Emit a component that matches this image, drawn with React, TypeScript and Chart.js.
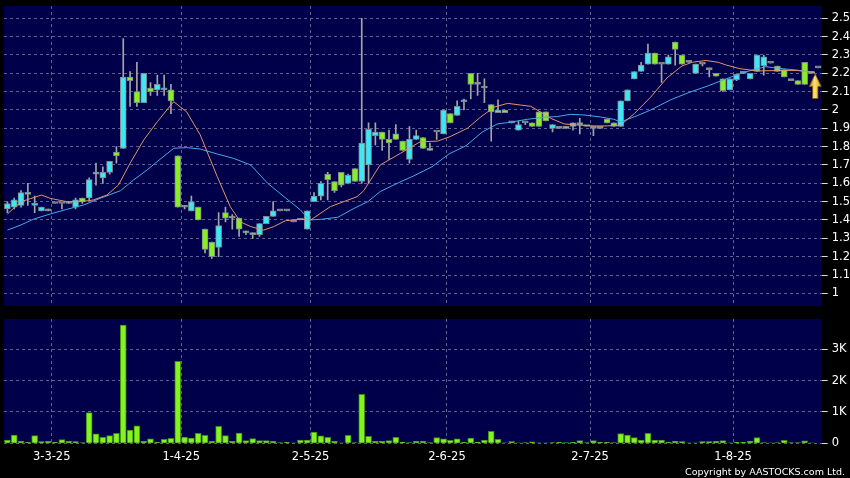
import React, { useEffect, useRef } from "react";
import { Chart, registerables } from "chart.js";

Chart.register(...registerables);

// ---- data (one entry per trading day, index 0..119) ----
const opens = [
  1.46, 1.47, 1.48, 1.55, 1.48, 1.45, 1.45, 1.49, 1.49, 1.49,
  1.47, 1.52, 1.52, 1.65, 1.63, 1.66, 1.77, 1.79, 2.18, 2.10,
  2.04, 2.12, 2.11, 2.11, 2.11, 1.75, 1.47, 1.45, 1.47, 1.35,
  1.28, 1.25, 1.44, 1.41, 1.41, 1.34, 1.33, 1.32, 1.38, 1.42,
  1.45, 1.45, 1.39, 1.40, 1.35, 1.50, 1.53, 1.65, 1.61, 1.66,
  1.60, 1.68, 1.61, 1.70, 1.86, 1.88, 1.84, 1.87, 1.83, 1.73,
  1.84, 1.85, 1.79, 1.88, 1.87, 1.98, 1.97, 2.045, 2.20, 2.14,
  2.13, 2.03, 1.985, 2.00, 1.93, 1.89, 1.93, 1.93, 1.99, 1.99,
  1.90, 1.90, 1.90, 1.91, 1.92, 1.91, 1.90, 1.90, 1.95, 1.93,
  1.91, 2.05, 2.17, 2.21, 2.25, 2.31, 2.25, 2.25, 2.37, 2.30,
  2.26, 2.20, 2.25, 2.22, 2.20, 2.17, 2.11, 2.165, 2.20, 2.17,
  2.21, 2.24, 2.255, 2.24, 2.22, 2.16, 2.16, 2.26, 2.20, 2.23,
];
const highs = [
  1.50, 1.52, 1.56, 1.60, 1.53, 1.47, 1.46, 1.49, 1.49, 1.50,
  1.52, 1.52, 1.63, 1.71, 1.69, 1.72, 1.80, 2.39, 2.21, 2.26,
  2.20, 2.15, 2.19, 2.19, 2.14, 1.75, 1.48, 1.53, 1.47, 1.35,
  1.28, 1.44, 1.47, 1.43, 1.41, 1.34, 1.33, 1.38, 1.42, 1.50,
  1.45, 1.45, 1.39, 1.40, 1.45, 1.55, 1.61, 1.66, 1.61, 1.66,
  1.65, 1.68, 2.50, 1.93, 1.93, 1.88, 1.89, 1.92, 1.83, 1.91,
  1.89, 1.85, 1.82, 1.88, 2.00, 1.98, 2.05, 2.06, 2.20, 2.20,
  2.17, 2.03, 2.055, 2.00, 1.93, 1.94, 1.93, 1.93, 1.99, 1.99,
  1.92, 1.90, 1.91, 1.93, 1.955, 1.91, 1.90, 1.90, 1.95, 1.93,
  2.05, 2.11, 2.21, 2.26, 2.36, 2.31, 2.25, 2.30, 2.37, 2.30,
  2.26, 2.25, 2.25, 2.22, 2.20, 2.17, 2.17, 2.195, 2.20, 2.20,
  2.30, 2.30, 2.255, 2.24, 2.22, 2.16, 2.16, 2.26, 2.20, 2.23,
];
const lows = [
  1.44, 1.46, 1.47, 1.48, 1.44, 1.45, 1.45, 1.49, 1.46, 1.49,
  1.46, 1.49, 1.51, 1.59, 1.60, 1.65, 1.71, 1.79, 2.02, 2.02,
  2.04, 2.08, 2.08, 2.08, 1.98, 1.47, 1.46, 1.45, 1.40, 1.22,
  1.19, 1.20, 1.39, 1.35, 1.31, 1.32, 1.30, 1.31, 1.38, 1.42,
  1.45, 1.45, 1.39, 1.40, 1.35, 1.50, 1.51, 1.51, 1.55, 1.58,
  1.60, 1.61, 1.60, 1.60, 1.81, 1.78, 1.73, 1.84, 1.78, 1.71,
  1.84, 1.79, 1.78, 1.84, 1.87, 1.93, 1.97, 2.00, 2.06, 2.08,
  2.04, 1.83, 1.985, 1.985, 1.93, 1.89, 1.92, 1.91, 1.91, 1.94,
  1.88, 1.90, 1.90, 1.89, 1.87, 1.91, 1.86, 1.90, 1.93, 1.91,
  1.91, 2.05, 2.17, 2.21, 2.25, 2.25, 2.15, 2.25, 2.245, 2.25,
  2.26, 2.20, 2.24, 2.18, 2.185, 2.10, 2.11, 2.16, 2.20, 2.17,
  2.21, 2.19, 2.255, 2.21, 2.18, 2.16, 2.14, 2.14, 2.20, 2.23,
];
const closes = [
  1.49, 1.51, 1.55, 1.54, 1.49, 1.47, 1.45, 1.49, 1.49, 1.49,
  1.51, 1.50, 1.62, 1.66, 1.66, 1.72, 1.75, 2.18, 2.16, 2.04,
  2.20, 2.10, 2.14, 2.12, 2.05, 1.47, 1.47, 1.50, 1.40, 1.24,
  1.20, 1.37, 1.41, 1.41, 1.35, 1.33, 1.32, 1.38, 1.42, 1.45,
  1.45, 1.45, 1.39, 1.40, 1.45, 1.53, 1.60, 1.62, 1.56, 1.59,
  1.645, 1.61, 1.82, 1.895, 1.88, 1.84, 1.82, 1.84, 1.78, 1.84,
  1.86, 1.79, 1.78, 1.88, 2.00, 1.93, 2.02, 2.055, 2.14, 2.14,
  2.12, 1.99, 2.00, 1.985, 1.93, 1.92, 1.93, 1.91, 1.91, 1.94,
  1.92, 1.90, 1.91, 1.93, 1.92, 1.91, 1.90, 1.90, 1.93, 1.91,
  2.05, 2.11, 2.21, 2.245, 2.31, 2.25, 2.25, 2.29, 2.33, 2.25,
  2.26, 2.25, 2.25, 2.22, 2.185, 2.105, 2.17, 2.195, 2.20, 2.20,
  2.30, 2.29, 2.255, 2.21, 2.18, 2.16, 2.14, 2.14, 2.20, 2.23,
];
const volumes = [
  100, 265, 65, 30, 245, 55, 65, 30, 115, 65,
  55, 20, 980, 300, 190, 245, 320, 3770, 425, 555,
  65, 140, 30, 130, 160, 2620, 200, 170, 320, 255,
  65, 540, 245, 65, 330, 85, 150, 85, 85, 65,
  20, 30, 10, 105, 105, 360, 235, 190, 65, 10,
  255, 20, 1565, 225, 65, 65, 85, 190, 40, 20,
  65, 65, 20, 180, 140, 95, 140, 30, 170, 40,
  105, 380, 130, 10, 55, 10, 20, 45, 10, 10,
  20, 30, 20, 30, 85, 20, 85, 30, 30, 20,
  310, 265, 180, 105, 320, 105, 105, 30, 65, 55,
  10, 10, 55, 55, 65, 85, 10, 30, 30, 65,
  180, 20, 10, 20, 95, 20, 20, 75, 10, 0,
];

// moving-average lines (x = day index)
const ma10X = [0, 2, 5, 6.3, 8.7, 10.7, 12.6, 14.6, 16.3, 18, 20, 22, 23.4, 24.4, 26.3, 28.3, 30.8, 32.7, 34.2, 35.7, 37.6, 39.1, 40.8, 43, 44.5, 47.4, 51.3, 52.3, 54.7, 57.7, 60.6, 63.1, 65, 67.5, 69.4, 71.4, 73.4, 75.3, 76.8, 78.2, 79.7, 81.7, 83.6, 86.1, 88, 90, 92, 94.4, 96.8, 99, 100.5, 102.5, 104.3, 105.5, 107.5, 110, 113, 116, 118.5];
const ma10Y = [1.433, 1.50, 1.536, 1.518, 1.50, 1.50, 1.509, 1.536, 1.591, 1.709, 1.836, 1.936, 2.0, 2.045, 1.99, 1.864, 1.636, 1.473, 1.39, 1.364, 1.345, 1.364, 1.396, 1.404, 1.40, 1.473, 1.527, 1.56, 1.70, 1.764, 1.827, 1.83, 1.855, 1.90, 1.96, 2.015, 2.036, 2.027, 2.02, 1.99, 1.955, 1.924, 1.918, 1.913, 1.913, 1.918, 1.98, 2.07, 2.175, 2.24, 2.26, 2.27, 2.26, 2.245, 2.225, 2.213, 2.215, 2.215, 2.204];
const ma20X = [0, 2, 3.8, 6.3, 8.7, 11.2, 13.6, 16.6, 18.5, 20.5, 22.4, 24.4, 26.3, 28.3, 30.8, 33.2, 35.7, 38.2, 40.6, 43, 44.3, 46.1, 48.5, 50.9, 52.9, 54.7, 57.5, 59.6, 62.3, 64.8, 67.3, 69.7, 71.9, 73.4, 76.3, 78.7, 80.7, 82.6, 84.6, 87, 89, 90, 92.5, 94.4, 97.3, 100, 102.7, 105.1, 107.3, 109.3, 111.3, 113.2, 115.7, 118.5];
const ma20Y = [1.345, 1.373, 1.404, 1.433, 1.458, 1.482, 1.518, 1.56, 1.618, 1.673, 1.731, 1.791, 1.795, 1.787, 1.76, 1.736, 1.70, 1.60, 1.527, 1.455, 1.40, 1.404, 1.415, 1.464, 1.50, 1.555, 1.605, 1.64, 1.69, 1.76, 1.805, 1.88, 1.924, 1.931, 1.949, 1.96, 1.964, 1.976, 1.973, 1.962, 1.949, 1.935, 1.97, 2.0, 2.055, 2.095, 2.13, 2.164, 2.195, 2.218, 2.236, 2.227, 2.218, 2.204];

// axis ticks
const xTickPos = [6.5, 25.5, 44.5, 64.5, 85.5, 106.5];
const xTickLabels = ["3-3-25", "1-4-25", "2-5-25", "2-6-25", "2-7-25", "1-8-25"];
const priceTicks = [1.0, 1.1, 1.2, 1.3, 1.4, 1.5, 1.6, 1.7, 1.8, 1.9, 2.0, 2.1, 2.2, 2.3, 2.4, 2.5];
const volTicks = [0, 1000, 2000, 3000];
const volTickLabels = ["0", "1K", "2K", "3K"];
const arrowAt = { x: 118.55, price: 2.196 };
const copyright = "Copyright by AASTOCKS.com Ltd.";

// ---- styles ----
const FONT = "'DejaVu Sans', sans-serif";
const NAVY = "#00004a";
const GRID = "rgba(125,125,170,0.75)";
const UP = "#3ee6f6";
const DOWN = "#88ee26";
const FLAT = "#a8a8a8";
const X_MIN = -0.5;
const X_MAX = opens.length - 0.5;

const zeroPad = (s: any) => {
  s.paddingTop = 0;
  s.paddingBottom = 0;
  s.paddingLeft = 0;
  s.paddingRight = 0;
};

const panelBg = {
  id: "panelBg",
  beforeDraw(chart: any) {
    const { ctx, chartArea } = chart;
    ctx.save();
    ctx.fillStyle = NAVY;
    ctx.fillRect(chartArea.left, chartArea.top, chartArea.right - chartArea.left, chartArea.bottom - chartArea.top);
    ctx.restore();
  },
};

const arrowPlugin = {
  id: "lastArrow",
  afterDatasetsDraw(chart: any) {
    const { ctx } = chart;
    const cx = chart.scales.x.getPixelForValue(arrowAt.x);
    const ty = chart.scales.y.getPixelForValue(arrowAt.price);
    ctx.save();
    const g = ctx.createLinearGradient(cx - 6, 0, cx + 6, 0);
    g.addColorStop(0, "#b87a00");
    g.addColorStop(0.45, "#ffe27a");
    g.addColorStop(1, "#d99a00");
    ctx.beginPath();
    ctx.moveTo(cx, ty);
    ctx.lineTo(cx + 6, ty + 12.5);
    ctx.lineTo(cx + 2.7, ty + 12.5);
    ctx.lineTo(cx + 2.7, ty + 24.5);
    ctx.lineTo(cx - 2.7, ty + 24.5);
    ctx.lineTo(cx - 2.7, ty + 12.5);
    ctx.lineTo(cx - 6, ty + 12.5);
    ctx.closePath();
    ctx.fillStyle = g;
    ctx.fill();
    ctx.strokeStyle = "#8a5a00";
    ctx.lineWidth = 0.8;
    ctx.stroke();
    ctx.restore();
  },
};

const copyrightPlugin = {
  id: "copyright",
  afterDraw(chart: any) {
    const { ctx } = chart;
    ctx.save();
    ctx.font = `9.5px ${FONT}`;
    ctx.fillStyle = "#ffffff";
    ctx.textAlign = "right";
    ctx.textBaseline = "alphabetic";
    ctx.fillText(copyright, 845, chart.height - 3);
    ctx.restore();
  },
};

export default function App() {
  const priceRef = useRef<HTMLCanvasElement>(null);
  const volRef = useRef<HTMLCanvasElement>(null);

  useEffect(() => {
    document.body.style.margin = "0";
    document.body.style.background = "#000";
    Chart.defaults.font.family = FONT;

    const idx = opens.map((_, i) => i);
    const bodyColors = idx.map((i) => (closes[i] > opens[i] ? UP : closes[i] < opens[i] ? DOWN : FLAT));

    const priceChart = new Chart(priceRef.current as HTMLCanvasElement, {
      type: "bar",
      data: {
        datasets: [
          {
            type: "line",
            data: ma10X.map((x, k) => ({ x, y: ma10Y[k] })),
            borderColor: "#e0946a",
            borderWidth: 1,
            pointRadius: 0,
            fill: false,
            tension: 0,
            order: 1,
          } as any,
          {
            type: "line",
            data: ma20X.map((x, k) => ({ x, y: ma20Y[k] })),
            borderColor: "#43aaea",
            borderWidth: 1,
            pointRadius: 0,
            fill: false,
            tension: 0,
            order: 1,
          } as any,
          {
            type: "bar",
            data: idx.map((i) => ({ x: i, y: [opens[i], closes[i]] })),
            backgroundColor: bodyColors,
            borderColor: "#7d8a8a",
            borderWidth: 1,
            borderSkipped: false,
            barThickness: 6,
            minBarLength: 2,
            grouped: false,
            order: 2,
          } as any,
          {
            type: "bar",
            data: idx.map((i) => ({ x: i, y: [lows[i], highs[i]] })),
            backgroundColor: "#a4a4a4",
            borderWidth: 0,
            barThickness: 1,
            grouped: false,
            order: 3,
          } as any,
        ],
      },
      options: {
        animation: false,
        responsive: false,
        events: [],
        layout: { padding: { left: 4, top: 6, right: 0, bottom: 4 } },
        plugins: { legend: { display: false }, tooltip: { enabled: false } },
        scales: {
          x: {
            type: "linear",
            min: X_MIN,
            max: X_MAX,
            offset: false,
            afterBuildTicks: (s: any) => {
              s.ticks = xTickPos.map((v) => ({ value: v }));
            },
            afterFit: (s: any) => {
              s.height = 0;
              zeroPad(s);
            },
            ticks: { display: false },
            grid: { color: GRID, drawTicks: false, offset: false, lineWidth: 1 },
            border: { display: false, dash: [3, 3] },
          },
          y: {
            type: "linear",
            position: "right",
            min: 0.931,
            max: 2.567,
            beginAtZero: false,
            afterBuildTicks: (s: any) => {
              s.ticks = priceTicks.map((v) => ({ value: v }));
            },
            afterFit: (s: any) => {
              s.width = 28.3;
              zeroPad(s);
            },
            ticks: {
              color: "#ffffff",
              padding: 4,
              font: { size: 11.5, family: FONT },
              callback: (v: any) => String(Number(Number(v).toFixed(1))),
            },
            grid: { color: GRID, tickLength: 6, tickColor: "#dddddd", tickBorderDash: [1, 0], lineWidth: 1 },
            border: { display: false, dash: [3, 3] },
          },
        },
      } as any,
      plugins: [panelBg, arrowPlugin],
    });

    const volChart = new Chart(volRef.current as HTMLCanvasElement, {
      type: "bar",
      data: {
        datasets: [
          {
            data: idx.map((i) => ({ x: i, y: volumes[i] })),
            backgroundColor: "#84f420",
            borderColor: "#3f8a14",
            borderWidth: 1,
            borderSkipped: "bottom",
            barThickness: 6,
            grouped: false,
          } as any,
        ],
      },
      options: {
        animation: false,
        responsive: false,
        events: [],
        layout: { padding: { left: 4, top: 9, right: 0, bottom: 0 } },
        plugins: { legend: { display: false }, tooltip: { enabled: false } },
        scales: {
          x: {
            type: "linear",
            min: X_MIN,
            max: X_MAX,
            offset: false,
            afterBuildTicks: (s: any) => {
              s.ticks = xTickPos.map((v) => ({ value: v }));
            },
            afterFit: (s: any) => {
              s.height = 34.7;
              zeroPad(s);
            },
            ticks: {
              color: "#ffffff",
              padding: 7,
              maxRotation: 0,
              autoSkip: false,
              font: { size: 11.5, family: FONT },
              callback: (_v: any, i: number) => xTickLabels[i],
            },
            grid: { color: GRID, drawTicks: false, offset: false, lineWidth: 1 },
            border: { display: false, dash: [3, 3] },
          },
          y: {
            type: "linear",
            position: "right",
            min: 0,
            max: 3967,
            afterBuildTicks: (s: any) => {
              s.ticks = volTicks.map((v) => ({ value: v }));
            },
            afterFit: (s: any) => {
              s.width = 28.3;
              zeroPad(s);
            },
            ticks: {
              color: "#ffffff",
              padding: 4,
              font: { size: 11.5, family: FONT },
              callback: (_v: any, i: number) => volTickLabels[i],
            },
            grid: { color: GRID, tickLength: 6, tickColor: "#dddddd", tickBorderDash: [1, 0], lineWidth: 1 },
            border: { display: false, dash: [3, 3] },
          },
        },
      } as any,
      plugins: [panelBg, copyrightPlugin],
    });

    return () => {
      priceChart.destroy();
      volChart.destroy();
    };
  }, []);

  return (
    <div style={{ position: "relative", width: 850, height: 478, background: "#000", overflow: "hidden" }}>
      <canvas ref={priceRef} width={850} height={310} style={{ position: "absolute", left: 0, top: 0 }} />
      <canvas ref={volRef} width={850} height={168} style={{ position: "absolute", left: 0, top: 310 }} />
    </div>
  );
}
